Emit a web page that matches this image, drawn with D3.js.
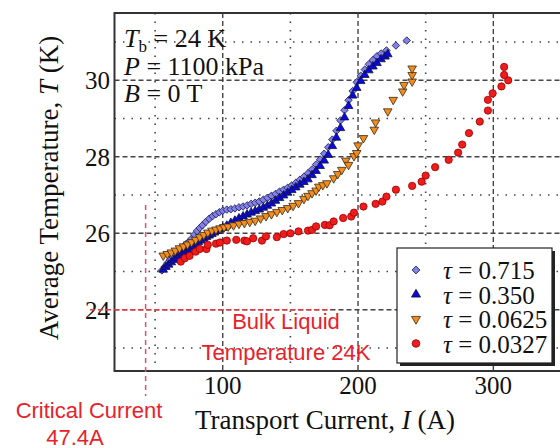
<!DOCTYPE html>
<html>
<head>
<meta charset="utf-8">
<script src="https://cdn.jsdelivr.net/npm/d3@7"></script>
<style>
  body { margin: 0; background: #fff; }
  svg { display: block; }
  .serif { font-family: "Liberation Serif", "Times New Roman", serif; fill: #111; }
  .note { font-family: "Liberation Sans", "Noto Sans", sans-serif; fill: #e8212b; }
</style>
</head>
<body>
<div id="chart"></div>
<script>
var width = 560,
    height = 448;

// tau = 0.715 (diamonds)
var i715 = [55, 57, 59, 61, 63, 65, 67, 69, 71, 73, 75, 77, 79, 81, 83, 85, 87.5, 90, 92.5, 95, 97.5, 100, 103, 106, 109, 112, 115, 118, 121, 124, 127, 130, 133, 136, 139, 142, 145, 148, 151, 154, 157, 160, 163, 166, 169, 172, 175, 178, 181, 184, 187, 190, 193, 196, 199, 202, 205, 208, 211, 214, 217, 221, 228, 236];
var t715 = [25.03, 25.12, 25.22, 25.30, 25.38, 25.45, 25.52, 25.58, 25.65, 25.72, 25.78, 25.86, 25.96, 26.06, 26.14, 26.21, 26.30, 26.38, 26.45, 26.50, 26.55, 26.59, 26.62, 26.63, 26.65, 26.68, 26.70, 26.73, 26.77, 26.80, 26.83, 26.88, 26.93, 26.98, 27.03, 27.09, 27.14, 27.19, 27.25, 27.32, 27.40, 27.48, 27.57, 27.67, 27.80, 27.93, 28.08, 28.25, 28.45, 28.68, 28.95, 29.22, 29.48, 29.72, 29.95, 30.12, 30.28, 30.42, 30.53, 30.63, 30.70, 30.78, 30.91, 31.04];

// tau = 0.350 (up triangles)
var i350 = [56, 58, 60, 62, 64, 66, 68, 70, 72, 74, 76, 78, 80, 82, 84, 86, 88, 90, 92, 94, 96, 98, 100, 103, 106, 109, 112, 115, 118, 121, 124, 127, 130, 133, 136, 139, 142, 145, 148, 151, 154, 157, 160, 163, 166, 169, 172, 175, 178, 181, 184, 187, 190, 193, 196, 199, 202, 205, 208, 211, 214, 217, 220, 222];
var t350 = [25.05, 25.12, 25.18, 25.24, 25.30, 25.36, 25.42, 25.47, 25.52, 25.57, 25.62, 25.67, 25.72, 25.77, 25.81, 25.86, 25.90, 25.94, 25.98, 26.02, 26.06, 26.10, 26.14, 26.20, 26.27, 26.33, 26.39, 26.44, 26.49, 26.54, 26.58, 26.62, 26.67, 26.72, 26.78, 26.85, 26.92, 26.99, 27.06, 27.13, 27.20, 27.27, 27.34, 27.41, 27.52, 27.63, 27.76, 27.90, 28.05, 28.28, 28.50, 28.75, 29.03, 29.33, 29.60, 29.80, 29.98, 30.14, 30.26, 30.36, 30.45, 30.55, 30.62, 30.68];

// tau = 0.0625 (down triangles)
var i0625 = [56, 59, 62, 65, 68, 71, 74, 77, 80, 83, 86, 89, 92, 95, 98, 101, 104, 108, 112, 116, 120, 124, 128, 132, 136, 140, 144, 148, 152, 156, 160, 163, 166, 169, 171, 174, 177, 182, 185, 188, 191, 193, 197, 199, 200, 204, 212, 213, 222, 226, 233, 234, 240, 240, 240];
var t0625 = [25.42, 25.46, 25.50, 25.55, 25.61, 25.66, 25.71, 25.77, 25.83, 25.90, 25.96, 26.02, 26.07, 26.10, 26.13, 26.16, 26.18, 26.21, 26.25, 26.27, 26.30, 26.33, 26.39, 26.45, 26.50, 26.56, 26.61, 26.66, 26.72, 26.79, 26.90, 26.98, 27.05, 27.12, 27.22, 27.26, 27.31, 27.44, 27.55, 27.66, 27.90, 27.79, 28.02, 28.10, 28.30, 28.49, 28.71, 28.90, 29.19, 29.49, 29.71, 29.88, 29.97, 30.14, 30.31];

// tau = 0.0327 (circles)
var i0327 = [69, 72, 75.5, 80, 83, 88, 89, 95, 98, 103, 110, 116, 118, 122.5, 129, 132, 140, 145, 150, 156, 163, 166, 169, 175.5, 179, 182, 189, 195, 197, 204, 213, 218, 221, 228, 240, 247, 250, 257, 267, 274, 277, 282, 290, 296, 296, 299.5, 306, 311, 308, 308];
var t0327 = [25.26, 25.35, 25.41, 25.52, 25.59, 25.59, 25.70, 25.73, 25.76, 25.81, 25.83, 25.81, 25.79, 25.87, 25.81, 25.92, 25.90, 25.98, 26.00, 26.05, 26.07, 26.09, 26.18, 26.22, 26.21, 26.31, 26.40, 26.44, 26.54, 26.70, 26.77, 26.83, 26.96, 27.14, 27.24, 27.35, 27.51, 27.73, 27.92, 28.11, 28.32, 28.62, 28.92, 29.21, 29.49, 29.66, 29.84, 30.00, 30.14, 30.35];

var seriesNames = ["0.715", "0.350", "0.0625", "0.0327"];
var xTicks = [100, 200, 300];
var xMinor = [50, 150, 250, 350];
var yTicks = [24, 26, 28, 30];
var yMinor = [23, 25, 27, 29, 31];
var criticalI = 43, bulkT = 24;

var series = [
  {name: seriesNames[0], I: i715, T: t715, shape: "diamond", fill: "#8282e6", stroke: "#1c1c5a"},
  {name: seriesNames[1], I: i350, T: t350, shape: "up", fill: "#0a0ae0", stroke: "#111133"},
  {name: seriesNames[2], I: i0625, T: t0625, shape: "down", fill: "#f28c1e", stroke: "#3a2a10"},
  {name: seriesNames[3], I: i0327, T: t0327, shape: "circle", fill: "#ee1c1c", stroke: "#a00000"}
];

var plot = {left: 114.5, top: 13, bottom: 371, right: 574.5};

var x = d3.scaleLinear().domain([20, 360]).range([plot.left, plot.right]);
var y = d3.scaleLinear().domain([22.4, 31.76]).range([plot.bottom, plot.top]);

var svg = d3.select("#chart").append("svg").attr("width", width).attr("height", height);

// grid
var grid = svg.append("g").attr("stroke", "#444").attr("fill", "none");
grid.selectAll(".gx").data(xTicks).enter().append("line")
    .attr("x1", d => x(d)).attr("x2", d => x(d)).attr("y1", plot.top).attr("y2", plot.bottom)
    .attr("stroke-width", 1.4).attr("stroke-dasharray", "5,3");
grid.selectAll(".gy").data(yTicks).enter().append("line")
    .attr("y1", d => y(d)).attr("y2", d => y(d)).attr("x1", plot.left).attr("x2", width)
    .attr("stroke-width", 1.4).attr("stroke-dasharray", "5,3");
grid.selectAll(".mx").data(xMinor).enter().append("line")
    .attr("x1", d => x(d)).attr("x2", d => x(d)).attr("y1", plot.top).attr("y2", plot.bottom)
    .attr("stroke-width", 1.6).attr("stroke-dasharray", "1.5,7");
grid.selectAll(".my").data(yMinor).enter().append("line")
    .attr("y1", d => y(d)).attr("y2", d => y(d)).attr("x1", plot.left).attr("x2", width)
    .attr("stroke-width", 1.6).attr("stroke-dasharray", "1.5,7");

// frame
svg.append("path")
    .attr("d", "M" + width + "," + plot.top + "H" + plot.left + "V" + plot.bottom + "H" + width)
    .attr("fill", "none").attr("stroke", "#333").attr("stroke-width", 2);

// tick labels
svg.selectAll(".xt").data(xTicks).enter().append("text").attr("class", "serif")
    .attr("x", d => x(d)).attr("y", 394).attr("text-anchor", "middle").style("font-size", "25px")
    .text(d => d);
svg.selectAll(".yt").data(yTicks).enter().append("text").attr("class", "serif")
    .attr("x", 110).attr("y", d => y(d) + 9).attr("text-anchor", "end").style("font-size", "25px")
    .text(d => d);

// axis titles
var xt = svg.append("text").attr("class", "serif").attr("x", 325).attr("y", 429)
    .attr("text-anchor", "middle").style("font-size", "27px");
xt.append("tspan").text("Transport Current, ");
xt.append("tspan").style("font-style", "italic").text("I");
xt.append("tspan").text(" (A)");

var yt = svg.append("text").attr("class", "serif")
    .attr("transform", "translate(58,188) rotate(-90)")
    .attr("text-anchor", "middle").style("font-size", "27px");
yt.append("tspan").text("Average Temperature, ");
yt.append("tspan").style("font-style", "italic").text("T");
yt.append("tspan").text(" (K)");

// red annotations
var notes = svg.append("g");
notes.append("line")
    .attr("x1", x(criticalI)).attr("x2", x(criticalI)).attr("y1", 205).attr("y2", 396)
    .attr("stroke", "#e0506a").attr("stroke-width", 1.5).attr("stroke-dasharray", "5,4");
notes.append("line")
    .attr("x1", 90).attr("x2", x(180)).attr("y1", y(bulkT)).attr("y2", y(bulkT))
    .attr("stroke", "#ec3a44").attr("stroke-width", 1.5).attr("stroke-dasharray", "5,3");
notes.append("text").attr("class", "note").attr("x", 89).attr("y", 418)
    .attr("text-anchor", "middle").style("font-size", "22px").text("Critical Current");
notes.append("text").attr("class", "note").attr("x", 75).attr("y", 445)
    .attr("text-anchor", "middle").style("font-size", "22px").text("47.4A");
notes.append("text").attr("class", "note").attr("x", 286).attr("y", 329)
    .attr("text-anchor", "middle").style("font-size", "22px").text("Bulk Liquid");
notes.append("text").attr("class", "note").attr("x", 286).attr("y", 360)
    .attr("text-anchor", "middle").style("font-size", "22px").text("Temperature 24K");

// conditions text
var cond = svg.append("g").attr("class", "serif").style("font-size", "26px");
var c1 = cond.append("text").attr("x", 124).attr("y", 47);
c1.append("tspan").style("font-style", "italic").text("T");
c1.append("tspan").attr("dy", 5).style("font-size", "17px").text("b");
c1.append("tspan").attr("dy", -5).text("  = 24 K");
var c2 = cond.append("text").attr("x", 124).attr("y", 75);
c2.append("tspan").style("font-style", "italic").text("P");
c2.append("tspan").text("  = 1100 kPa");
var c3 = cond.append("text").attr("x", 124).attr("y", 102);
c3.append("tspan").style("font-style", "italic").text("B");
c3.append("tspan").text("  = 0 T");

// marker shapes
function symbolPath(shape, scale) {
  if (shape === "diamond") return d3.symbol().type(d3.symbolSquare).size(28 * scale)();
  if (shape === "circle") return d3.symbol().type(d3.symbolCircle).size(42 * scale)();
  return d3.symbol().type(d3.symbolTriangle).size(32 * scale)();
}
function symbolRotate(shape) {
  if (shape === "diamond") return 45;
  if (shape === "down") return 180;
  return 0;
}

series.forEach(function(s) {
  var pts = s.I.map(function(v, k) { return [v, s.T[k]]; });
  svg.append("g").selectAll("path").data(pts).enter().append("path")
      .attr("d", symbolPath(s.shape, 1))
      .attr("transform", d => "translate(" + x(d[0]) + "," + y(d[1]) + ") rotate(" + symbolRotate(s.shape) + ")")
      .attr("fill", s.fill).attr("stroke", s.stroke).attr("stroke-width", 0.8);
});

// legend
var lg = svg.append("g").attr("transform", "translate(397,248)");
lg.append("rect").attr("x", 3).attr("y", 3).attr("width", 155).attr("height", 115).attr("fill", "#222");
lg.append("rect").attr("width", 155).attr("height", 115).attr("fill", "#fff").attr("stroke", "#222").attr("stroke-width", 1.2);
var items = lg.selectAll(".item").data(series).enter().append("g")
    .attr("transform", (d, i) => "translate(0," + (22 + i * 24.5) + ")");
items.append("path")
    .attr("d", d => symbolPath(d.shape, 1.1))
    .attr("transform", d => "translate(19,0) rotate(" + symbolRotate(d.shape) + ")")
    .attr("fill", d => d.fill).attr("stroke", d => d.stroke).attr("stroke-width", 0.8);
var lt = items.append("text").attr("class", "serif").attr("x", 46).attr("y", 9).style("font-size", "25px");
lt.append("tspan").style("font-style", "italic").text("τ");
lt.append("tspan").text(d => " = " + d.name);
</script>
</body>
</html>
